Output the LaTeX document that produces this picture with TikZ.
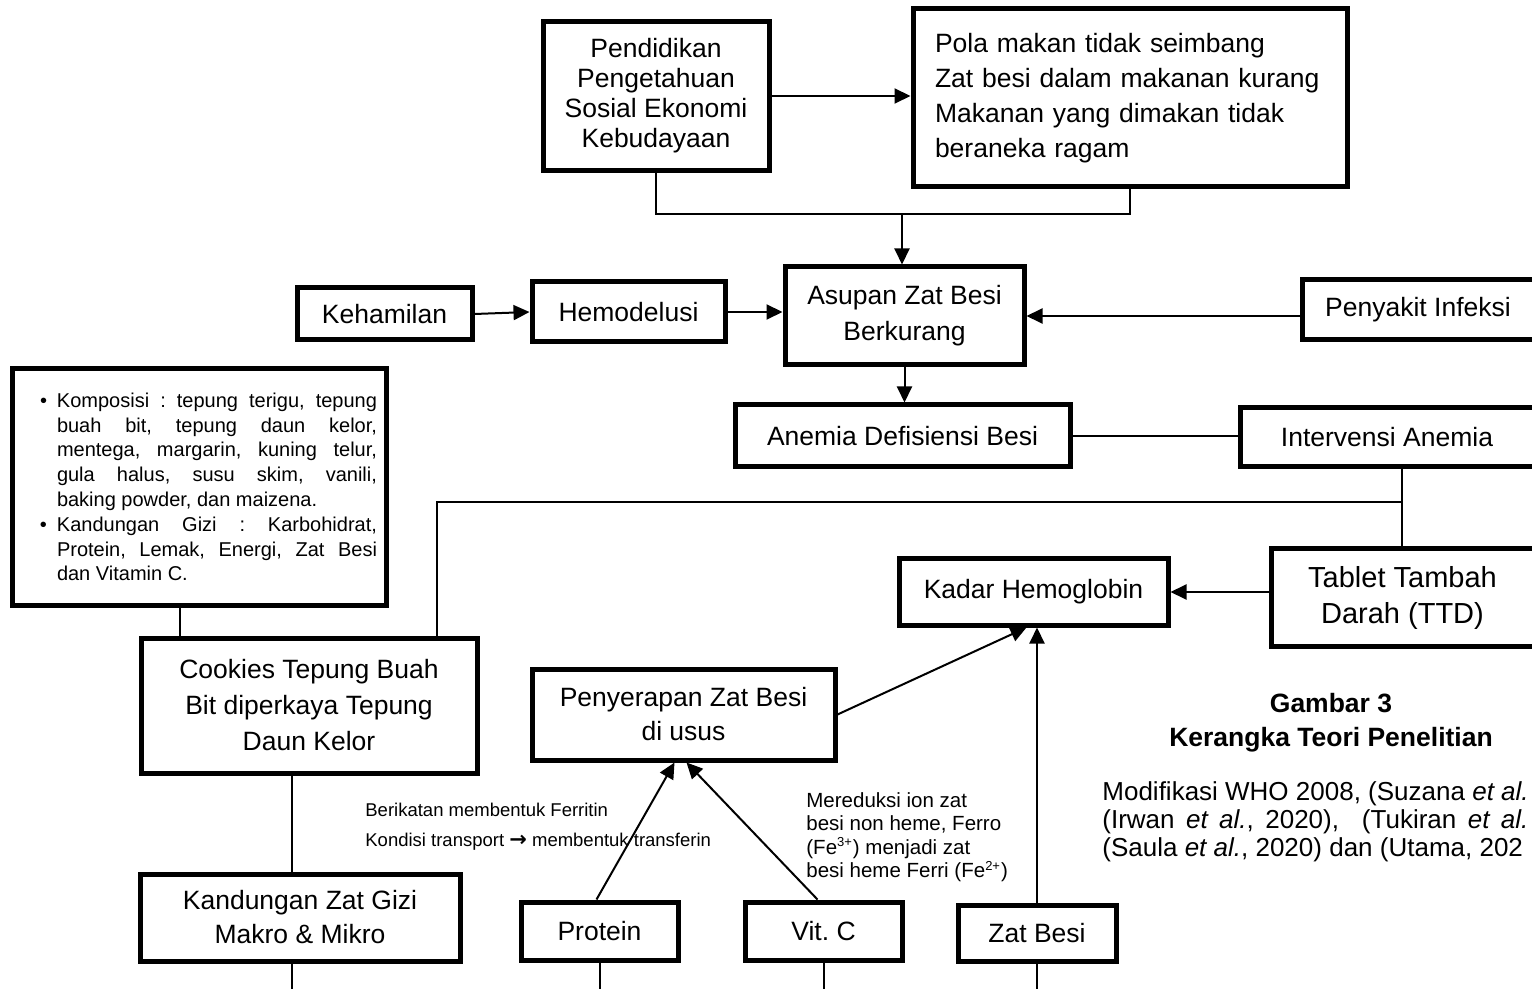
\documentclass[tikz,border=0pt]{standalone}
\usepackage{fontspec}
\setmainfont{Liberation Sans}
\newfontfamily\arrfont{DejaVu Sans}
\usetikzlibrary{arrows.meta}
\newcommand\myfs[2]{\fontsize{#1pt}{#2pt}\selectfont}
\newcommand\mysup[1]{\textsuperscript{\fontsize{6.5pt}{7pt}\selectfont #1}}
\frenchspacing
\begin{document}
\begin{tikzpicture}[x=0.5pt,y=-0.5pt,
  box/.style={draw, line width=2.5pt, inner sep=0pt, align=center},
  main/.style={font=\myfs{13.25}{#1}},
  main/.default=15,
  arr/.style={line width=1pt, -{Triangle[length=8pt,width=7.5pt]}},
  ln/.style={line width=1pt},
  lab/.style={inner sep=0pt, anchor=west}
]
\useasboundingbox (0,0) rectangle (1532,989);
\clip (0,0) rectangle (1532,989);

% top row
\node[box, main=15, minimum width=113pt, minimum height=74.5pt] (pend) at (656,96)
  {Pendidikan\\Pengetahuan\\Sosial Ekonomi\\Kebudayaan};
\node[box, main=17.5, align=left, text width=195pt, inner xsep=11pt, minimum height=89pt] (pola) at (1130,98)
  {Pola makan tidak seimbang\\Zat besi dalam makanan kurang\\Makanan yang dimakan tidak\\beraneka ragam};

% second row
\node[box, main=18, minimum width=119.5pt, minimum height=49pt] (asupan) at (904.5,316) {Asupan Zat Besi\\Berkurang};
\node[box, main, minimum width=87.5pt, minimum height=26pt] (kehamilan) at (384.5,314) {Kehamilan};
\node[box, main, minimum width=96.5pt, minimum height=30pt] (hemo) at (628.5,312) {Hemodelusi};
\node[box, main, minimum width=116pt, minimum height=30pt] (penyakit) at (1418,310) {Penyakit Infeksi};

% third row
\node[box, main, minimum width=167.5pt, minimum height=31pt] (anemia) at (902.5,436) {Anemia Defisiensi Besi};
\node[box, main, minimum width=147pt, minimum height=29.5pt] (interv) at (1387,437.5) {Intervensi Anemia};

% composition box
\node[box, font=\myfs{10}{12.4}, align=none, text width=178pt, inner xsep=4.5pt, minimum width=187pt, minimum height=118pt] (komp) at (199,487)
{\leftskip=18pt\parindent=0pt\rightskip=0pt
\leavevmode\llap{\makebox[8.5pt][l]{\textbullet}}\makebox[160pt][s]{Komposisi : tepung terigu, tepung}\par
\leavevmode\makebox[160pt][s]{buah bit, tepung daun kelor,}\par
\leavevmode\makebox[160pt][s]{mentega, margarin, kuning telur,}\par
\leavevmode\makebox[160pt][s]{gula halus, susu skim, vanili,}\par
\leavevmode baking powder, dan maizena.\par
\leavevmode\llap{\makebox[8.5pt][l]{\textbullet}}\makebox[160pt][s]{Kandungan Gizi : Karbohidrat,}\par
\leavevmode\makebox[160pt][s]{Protein, Lemak, Energi, Zat Besi}\par
\leavevmode dan Vitamin C.\par};

% middle
\node[box, main, minimum width=134.5pt, minimum height=33pt] (kadar) at (1033.5,592) {Kadar Hemoglobin};
\node[box, font=\myfs{14.5}{18}, minimum width=131.5pt, minimum height=48.5pt] (tablet) at (1402.5,597.5) {Tablet Tambah\\Darah (TTD)};
\node[box, main=18, minimum width=168pt, minimum height=67.5pt] (cookies) at (309,705.5) {Cookies Tepung Buah\\Bit diperkaya Tepung\\Daun Kelor};
\node[box, main=17, minimum width=151.5pt, minimum height=45.5pt] (penyer) at (683.5,714.5) {Penyerapan Zat Besi\\di usus};

% bottom row
\node[box, main=17, minimum width=160pt, minimum height=43.5pt] (kandung) at (300,917.5) {Kandungan Zat Gizi\\Makro \& Mikro};
\node[box, main, minimum width=78.5pt, minimum height=29pt] (protein) at (599.5,931) {Protein};
\node[box, main, minimum width=78.5pt, minimum height=29pt] (vitc) at (823.5,931) {Vit. C};
\node[box, main, minimum width=79pt, minimum height=28pt] (zatbesi) at (1037,933) {Zat Besi};

% labels
\node[lab, font=\myfs{9.25}{11}] (lab1) at (365,810) {Berikatan membentuk Ferritin};
\node[lab, font=\myfs{9.25}{11}] (lab2) at (365,842) {Kondisi transport {\arrfont\bfseries\fontsize{10.5pt}{10pt}\selectfont →} membentuk transferin};
\node[lab, align=left, font=\myfs{10.25}{11.75}] (lab3) at (806,837)
  {Mereduksi ion zat\\besi non heme, Ferro\\(Fe\mysup{3+}) menjadi zat\\besi heme Ferri (Fe\mysup{2+})};
\node[inner sep=0pt, align=center, font=\myfs{13.25}{17}\bfseries] (cap) at (1331,723) {Gambar 3\\Kerangka Teori Penelitian};
\node[lab, font=\myfs{13}{14}] (ref1) at (1102,794) {Modifikasi WHO 2008, (Suzana \textit{et al.}};
\node[lab, font=\myfs{13}{14}] (ref2) at (1102,822) {\makebox[213pt][s]{(Irwan \textit{et al.}, 2020),\ \ (Tukiran \textit{et al.}}};
\node[lab, font=\myfs{13}{14}] (ref3) at (1102,850) {(Saula \textit{et al.}, 2020) dan (Utama, 202};

% coordinates
\coordinate (jn) at (902,214);
\coordinate (cj) at (437,502);
\coordinate (tj) at (1402,502);
\coordinate (kp) at (180,0);
\coordinate (kl) at (292,0);
\coordinate (bot) at (0,989);

% connectors
\draw[arr] (pend.east) -- (pend.east -| pola.west);
\draw[ln] (pend.south) |- (jn) -| (pola.south);
\draw[arr] (jn) -- (jn |- asupan.north);
\draw[arr] (kehamilan.east) -- (hemo.west);
\draw[arr] (hemo.east) -- (hemo.east -| asupan.west);
\draw[arr] (asupan.east -| penyakit.west) -- (asupan.east);
\draw[arr] (asupan.south) -- (asupan.south |- anemia.north);
\draw[ln] (anemia.east) -- (anemia.east -| interv.west);
\draw[ln] (interv.south -| tj) -- (tablet.north -| tj);
\draw[ln] (cookies.north -| cj) -- (cj) -- (tj);
\draw[ln] (komp.south -| kp) -- (cookies.north -| kp);
\draw[arr] (tablet.west |- kadar.east) -- (kadar.east);
\draw[ln] (cookies.south -| kl) -- (kandung.north -| kl);
\draw[ln] (kandung.south -| kl) -- (bot -| kl);
\draw[arr] (penyer.east) -- ([xshift=-3.5pt]kadar.south);
\draw[arr] (zatbesi.north) -- (zatbesi.north |- kadar.south);
\draw[arr] ([xshift=-1.5pt]protein.north) -- ([xshift=-4.5pt]penyer.south);
\draw[arr] ([xshift=-3pt]vitc.north) -- ([xshift=1.5pt]penyer.south);
\draw[ln] (protein.south) -- (protein.south |- bot);
\draw[ln] (vitc.south) -- (vitc.south |- bot);
\draw[ln] (zatbesi.south) -- (zatbesi.south |- bot);
\end{tikzpicture}
\end{document}
